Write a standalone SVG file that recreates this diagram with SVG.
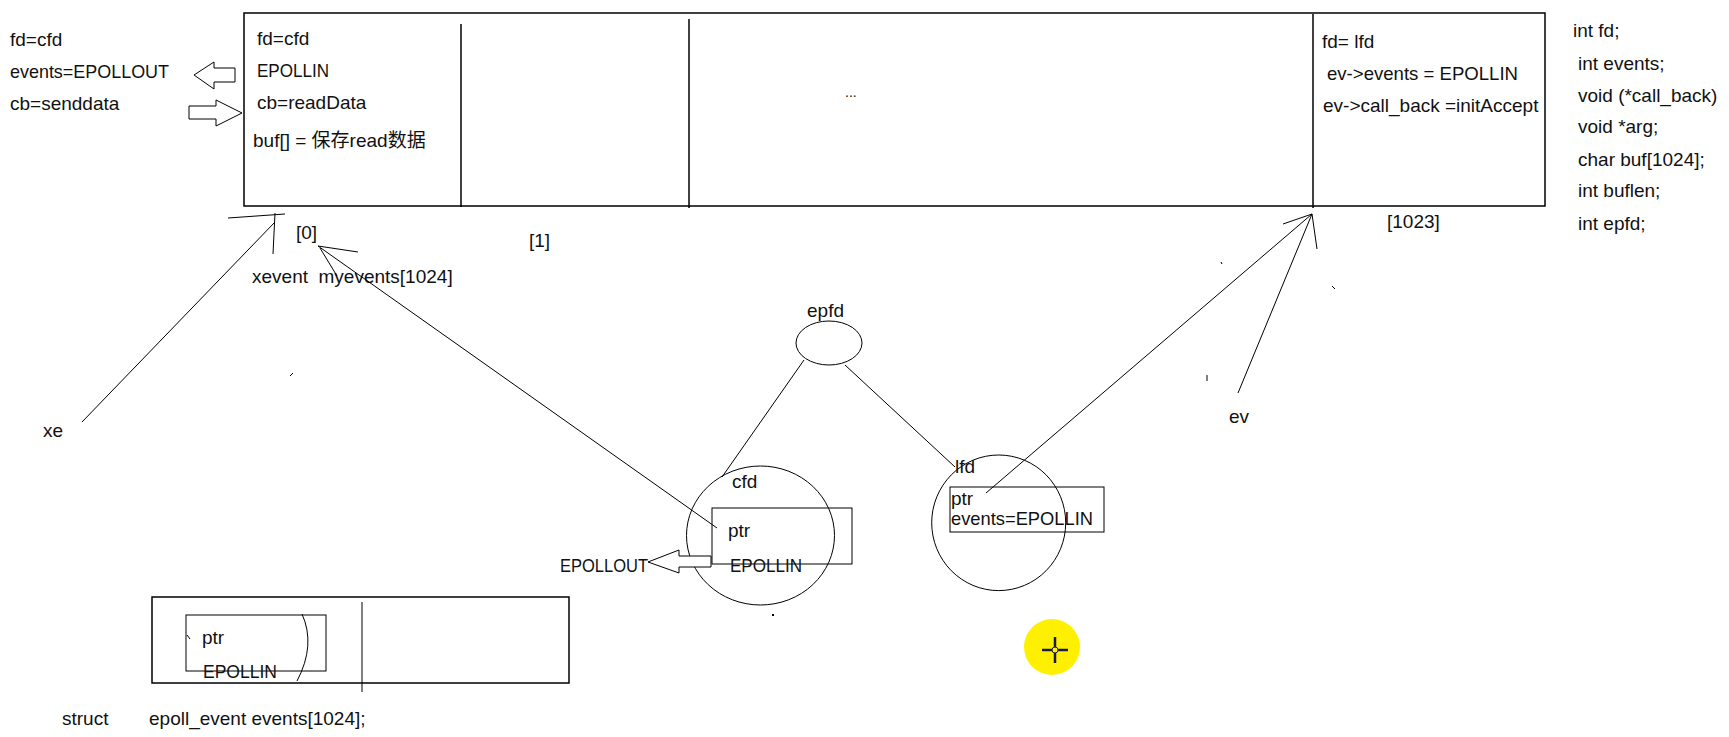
<svg xmlns="http://www.w3.org/2000/svg" width="1729" height="737" viewBox="0 0 1729 737">
<style>
text{font-family:"Liberation Sans","Noto Sans CJK SC",sans-serif;font-size:19px;fill:#111}
.box{fill:none;stroke:#000;stroke-width:1.5}
.ln{fill:none;stroke:#000;stroke-width:1}
.hollow{fill:#fff;stroke:#000;stroke-width:1}
</style>
<rect width="1729" height="737" fill="#fff"/>
<g id="myevents-array">
<rect class="box" x="244" y="13" width="1301" height="193"/>
<line class="box" x1="461" y1="24" x2="461" y2="207"/>
<line class="box" x1="689" y1="19" x2="689" y2="208"/>
<line class="box" x1="1313" y1="14" x2="1313" y2="208"/>
<text x="257" y="45">fd=cfd</text>
<text x="257" y="77" textLength="72" lengthAdjust="spacingAndGlyphs">EPOLLIN</text>
<text x="257" y="109">cb=readData</text>
<text x="253" y="147">buf[] = 保存read数据</text>
<text x="845" y="97" style="font-size:14px">...</text>
<text x="1322" y="48">fd= lfd</text>
<text x="1327" y="80" textLength="191" lengthAdjust="spacingAndGlyphs">ev-&gt;events = EPOLLIN</text>
<text x="1323" y="112">ev-&gt;call_back =initAccept</text>
<text x="296" y="239">[0]</text>
<text x="529" y="247">[1]</text>
<text x="1387" y="228">[1023]</text>
<text x="252" y="283" xml:space="preserve">xevent  myevents[1024]</text>
</g>
<g id="new-values">
<text x="10" y="46">fd=cfd</text>
<text x="10" y="78" textLength="159" lengthAdjust="spacingAndGlyphs">events=EPOLLOUT</text>
<text x="10" y="110">cb=senddata</text>
</g>
<g id="struct-fields">
<text x="1573" y="37">int fd;</text>
<text x="1578" y="70">int events;</text>
<text x="1578" y="102">void (*call_back)</text>
<text x="1578" y="133">void *arg;</text>
<text x="1578" y="166">char buf[1024];</text>
<text x="1578" y="197">int buflen;</text>
<text x="1578" y="230">int epfd;</text>
</g>
<g id="xe"><text x="43" y="437">xe</text></g>
<g id="ev"><text x="1229" y="423">ev</text></g>
<g id="epfd">
<ellipse class="ln" cx="829" cy="343" rx="33" ry="22"/>
<text x="807" y="317">epfd</text>
</g>
<g id="cfd">
<ellipse class="ln" cx="760.5" cy="535.5" rx="74" ry="69.5"/>
<text x="732" y="488">cfd</text>
<rect class="ln" x="712" y="508" width="140" height="56"/>
<text x="728" y="537">ptr</text>
<text x="730" y="572" textLength="72" lengthAdjust="spacingAndGlyphs">EPOLLIN</text>
</g>
<g id="epollout"><text x="560" y="572" textLength="88" lengthAdjust="spacingAndGlyphs">EPOLLOUT</text></g>
<g id="lfd">
<ellipse class="ln" cx="998.7" cy="522.8" rx="67" ry="67.8"/>
<text x="955" y="473">lfd</text>
<rect class="ln" x="950" y="487" width="154" height="45"/>
<text x="951" y="505">ptr</text>
<text x="951" y="525" textLength="142" lengthAdjust="spacingAndGlyphs">events=EPOLLIN</text>
</g>
<g id="events-array">
<rect class="box" x="152" y="597" width="417" height="86"/>
<rect class="ln" x="186" y="615" width="140" height="56"/>
<line class="ln" x1="362" y1="602" x2="362" y2="692"/>
<path class="ln" d="M302,614 Q316,645 297,681"/>
<path class="ln" d="M187,635 L190,639"/>
<text x="202" y="644">ptr</text>
<text x="203" y="678" textLength="74" lengthAdjust="spacingAndGlyphs">EPOLLIN</text>
<text x="62" y="725">struct</text>
<text x="149" y="725">epoll_event events[1024];</text>
</g>
<g id="connectors">
<polygon class="hollow" points="194,75 214,62 214,68 235,68 235,82 214,82 214,89"/>
<polygon class="hollow" points="189,106 216,106 216,100 242,113 216,126 216,119 189,119"/>
<polygon class="hollow" points="648,562 679,550 679,556 711,556 711,567 679,567 679,573"/>
<line class="ln" x1="228" y1="218" x2="285" y2="214"/>
<line class="ln" x1="275" y1="213" x2="273" y2="254"/>
<line class="ln" x1="82" y1="422" x2="275" y2="222"/>
<line class="ln" x1="717" y1="528" x2="318" y2="246"/>
<line class="ln" x1="318" y1="246" x2="358" y2="252"/>
<line class="ln" x1="320" y1="248" x2="337" y2="276"/>
<line class="ln" x1="804" y1="360" x2="722" y2="477"/>
<line class="ln" x1="845" y1="365" x2="955" y2="467"/>
<line class="ln" x1="986" y1="493" x2="1312" y2="214"/>
<line class="ln" x1="1238" y1="393" x2="1312" y2="214"/>
<line class="ln" x1="1312" y1="214" x2="1283" y2="224"/>
<line class="ln" x1="1312" y1="214" x2="1317" y2="249"/>
</g>
<g id="marks">
<path class="ln" d="M290,376 L293,373"/>
<path class="ln" d="M1221,262 L1222,264"/>
<path class="ln" d="M1332,286 L1335,289"/>
<path class="ln" d="M1207,375 L1207,381"/>
<rect x="772" y="614" width="2" height="2" fill="#000"/>
</g>
<g id="cursor">
<circle cx="1052" cy="647" r="28" fill="#ffef00"/>
<g stroke="#1a1a3a" stroke-width="2.5">
<line x1="1042" y1="650" x2="1068" y2="650"/>
<line x1="1055" y1="637" x2="1055" y2="663"/>
</g>
<circle cx="1055" cy="650" r="3" fill="#ffef00" stroke="#1a1a3a" stroke-width="1"/>
</g>
</svg>
